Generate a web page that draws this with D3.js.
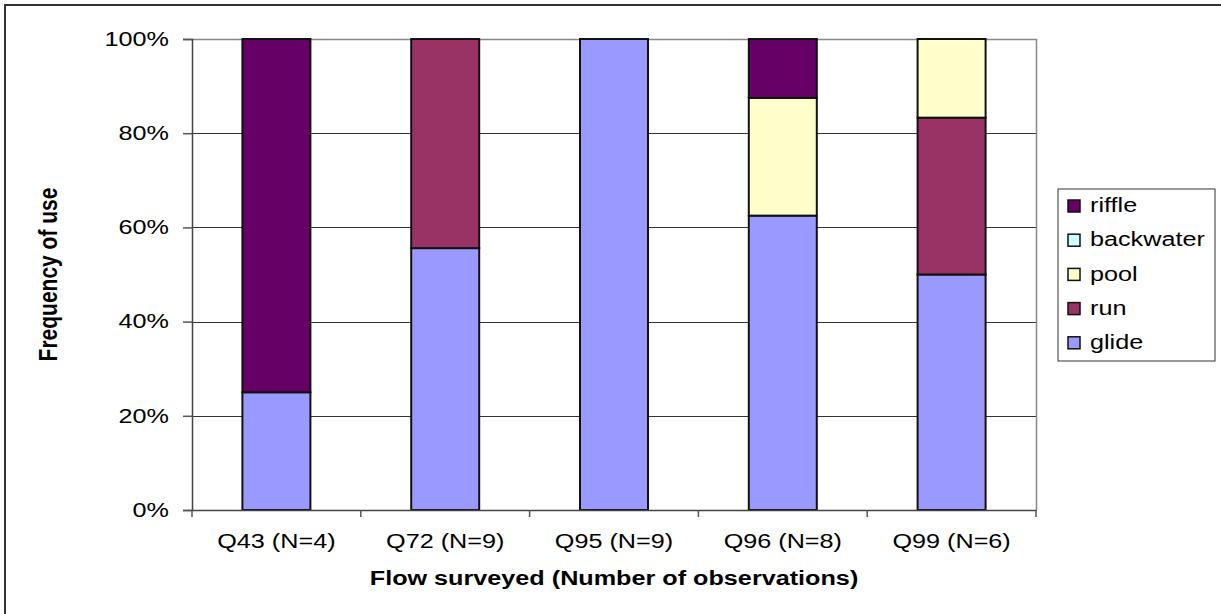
<!DOCTYPE html>
<html>
<head>
<meta charset="utf-8">
<script src="https://cdn.jsdelivr.net/npm/d3@7"></script>
<style>
  html, body { margin: 0; padding: 0; background: #fff; }
  svg { display: block; }
  text { font-family: "Liberation Sans", Arial, sans-serif; fill: #000; }
</style>
</head>
<body>
<svg id="chart" width="1221" height="614"></svg>
<script>
const categories = ["Q43 (N=4)", "Q72 (N=9)", "Q95 (N=9)", "Q96 (N=8)", "Q99 (N=6)"];
const seriesNames = ["glide", "run", "pool", "backwater", "riffle"];
const glide = [25, 55.6, 100, 62.5, 50];
const run = [0, 44.4, 0, 0, 33.3];
const pool = [0, 0, 0, 25, 16.7];
const backwater = [0, 0, 0, 0, 0];
const riffle = [75, 0, 0, 12.5, 0];
const colors = ["#9999FF", "#993366", "#FFFFCC", "#CCFFFF", "#660066"];
const yTicks = [0, 20, 40, 60, 80, 100];
const yTitle = "Frequency of use";
const xTitle = "Flow surveyed (Number of observations)";

const SX = 1.2; // horizontal text stretch of the original
const svg = d3.select("#chart");
const M = { left: 192, right: 1036, top: 39, bottom: 510 };

// outer frame
svg.append("rect").attr("x", 5).attr("y", 5).attr("width", 1240).attr("height", 640)
  .attr("fill", "none").attr("stroke", "#333").attr("stroke-width", 2);

const x = d3.scaleBand().domain(categories).range([M.left, M.right]).paddingInner(0).paddingOuter(0);
const y = d3.scaleLinear().domain([0, 100]).range([M.bottom, M.top]);

// gridlines
svg.append("g").selectAll("line").data(yTicks.filter(t => t > 0 && t < 100)).join("line")
  .attr("x1", M.left).attr("x2", M.right)
  .attr("y1", d => Math.round(y(d)) + 0.5).attr("y2", d => Math.round(y(d)) + 0.5)
  .attr("stroke", "#333").attr("stroke-width", 1);

// plot area top/right border
svg.append("path")
  .attr("d", `M${M.left},${M.top + 0.5}H${M.right + 0.5}V${M.bottom}`)
  .attr("fill", "none").attr("stroke", "#888").attr("stroke-width", 1.5);

// stacked bars
const table = categories.map((c, i) => ({
  cat: c, glide: glide[i], run: run[i], pool: pool[i], backwater: backwater[i], riffle: riffle[i]
}));
const stacked = d3.stack().keys(seriesNames)(table);
const barW = 68;
const gBars = svg.append("g");
stacked.forEach((layer, li) => {
  gBars.append("g").selectAll("rect")
    .data(layer.filter(d => d[1] - d[0] > 0))
    .join("rect")
    .attr("x", d => x(d.data.cat) + x.bandwidth() / 2 - barW / 2)
    .attr("y", d => y(d[1]))
    .attr("width", barW)
    .attr("height", d => y(d[0]) - y(d[1]))
    .attr("fill", colors[li])
    .attr("stroke", "#111")
    .attr("stroke-width", 2);
});

// y axis
const yAxis = svg.append("g").attr("transform", `translate(${M.left},0)`)
  .call(d3.axisLeft(y).tickValues(yTicks).tickSize(9).tickFormat(d => d + "%"));
yAxis.select(".domain").attr("stroke", "#444").attr("stroke-width", 1.5);
yAxis.selectAll(".tick line").attr("stroke", "#555").attr("stroke-width", 1.5);
yAxis.selectAll(".tick text").each(function() {
  const t = d3.select(this);
  t.attr("x", null).attr("dy", null).attr("font-size", 21)
   .attr("text-anchor", "end").attr("dominant-baseline", "central")
   .attr("transform", `translate(-23,-1) scale(${SX},1)`);
});

// x axis
const xAxis = svg.append("g").attr("transform", `translate(0,${M.bottom})`)
  .call(d3.axisBottom(x).tickSize(0).tickPadding(0));
xAxis.select(".domain").attr("stroke", "#444").attr("stroke-width", 1.5);
xAxis.selectAll(".tick line").remove();
xAxis.selectAll(".tick text").each(function() {
  d3.select(this).attr("y", null).attr("dy", null).attr("font-size", 21)
    .attr("text-anchor", "middle")
    .attr("transform", `translate(0,38) scale(${SX},1)`);
});
// category boundary ticks
svg.append("g").selectAll("line")
  .data(d3.range(categories.length + 1))
  .join("line")
  .attr("x1", i => i < categories.length ? x(categories[i]) : M.right)
  .attr("x2", i => i < categories.length ? x(categories[i]) : M.right)
  .attr("y1", M.bottom).attr("y2", M.bottom + 7)
  .attr("stroke", "#555").attr("stroke-width", 1.5);

// axis titles
svg.append("text").text(yTitle)
  .attr("font-size", 21).attr("font-weight", "bold").attr("text-anchor", "middle")
  .attr("transform", `translate(57,${(M.top + M.bottom) / 2}) rotate(-90) scale(1,${SX})`);
svg.append("text").text(xTitle)
  .attr("font-size", 21).attr("font-weight", "bold").attr("text-anchor", "middle")
  .attr("transform", `translate(${(M.left + M.right) / 2},585) scale(${SX},1)`);

// legend
const legendOrder = ["riffle", "backwater", "pool", "run", "glide"];
const lg = svg.append("g");
lg.append("rect").attr("x", 1058).attr("y", 189).attr("width", 157).attr("height", 172)
  .attr("fill", "#fff").attr("stroke", "#333").attr("stroke-width", 1);
const items = lg.selectAll("g.item").data(legendOrder).join("g").attr("class", "item")
  .attr("transform", (d, i) => `translate(1068,${206 + i * 34.2})`);
items.append("rect").attr("x", 0).attr("y", -6).attr("width", 12).attr("height", 12)
  .attr("fill", d => colors[seriesNames.indexOf(d)]).attr("stroke", "#111").attr("stroke-width", 1.5);
items.append("text").text(d => d).attr("font-size", 21).attr("dominant-baseline", "central")
  .attr("transform", `translate(22,-1) scale(${SX},1)`);
</script>
</body>
</html>
